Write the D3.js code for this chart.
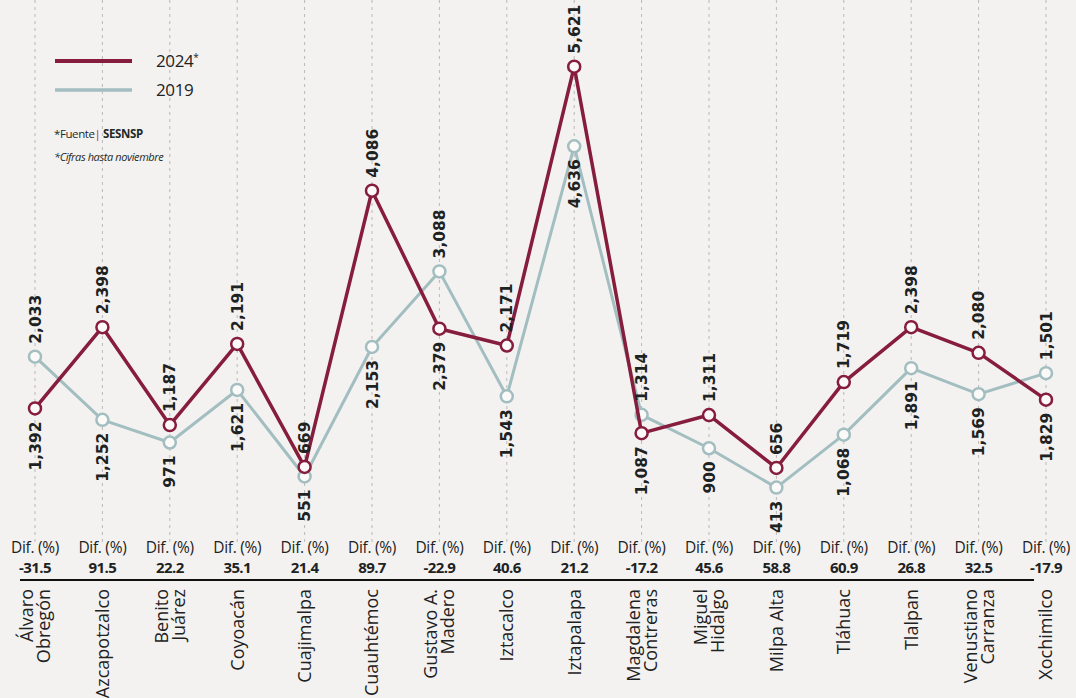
<!DOCTYPE html>
<html>
<head>
<meta charset="utf-8">
<script src="https://cdn.jsdelivr.net/npm/d3@7"></script>
<style>
  html, body { margin: 0; padding: 0; background: #f4f2f1; }
  #chart { width: 1076px; height: 698px; }
</style>
</head>
<body>
<div id="chart"></div>
<script>
var alcaldias = [
    ["Álvaro", "Obregón"], ["Azcapotzalco"], ["Benito", "Juárez"], ["Coyoacán"],
    ["Cuajimalpa"], ["Cuauhtémoc"], ["Gustavo A.", "Madero"], ["Iztacalco"],
    ["Iztapalapa"], ["Magdalena", "Contreras"], ["Miguel", "Hidalgo"], ["Milpa Alta"],
    ["Tláhuac"], ["Tlalpan"], ["Venustiano", "Carranza"], ["Xochimilco"]
];
var values2024 = [1392, 2398, 1187, 2191, 669, 4086, 2379, 2171, 5621, 1087, 1311, 656, 1719, 2398, 2080, 1501];
var values2019 = [2033, 1252, 971, 1621, 551, 2153, 3088, 1543, 4636, 1314, 900, 413, 1068, 1891, 1569, 1829];
var difPct = ["-31.5", "91.5", "22.2", "35.1", "21.4", "89.7", "-22.9", "40.6", "21.2", "-17.2", "45.6", "58.8", "60.9", "26.8", "32.5", "-17.9"];
// series whose number is printed on top (the paper flips Xochimilco)
var topLabel = ["2019", "2024", "2024", "2024", "2024", "2024", "2019", "2024", "2024", "2019", "2024", "2024", "2024", "2024", "2024", "2024"];

var colors = { "2024": "#861d3c", "2019": "#a3bec0" };

var LineChart = function(container, options) {
    this.chart = document.getElementById(container);
    this.cx = 1076;
    this.cy = 698;
    this.options = options;
    this.keys = alcaldias.map(function(d) { return d.join(" "); });

    this.svg = d3.select(this.chart).append("svg")
        .attr("width", this.cx)
        .attr("height", this.cy);

    this.setScales();
    this.draw();
}

LineChart.prototype.setScales = function() {
    this.x = d3.scalePoint()
        .domain(this.keys)
        .range([35, 1046]);

    this.y = d3.scaleLinear()
        .domain([0, 6000])
        .range([521, 36]);
}

LineChart.prototype.draw = function() {
    var self = this;
    var svg = this.svg;

    // dashed guides
    svg.append("g").selectAll("line").data(this.keys).enter().append("line")
        .attr("x1", function(d) { return self.x(d); })
        .attr("x2", function(d) { return self.x(d); })
        .attr("y1", 0)
        .attr("y2", 545)
        .attr("stroke", "#b9b9b9")
        .attr("stroke-width", 1)
        .attr("stroke-dasharray", "3,4");

    this.legend();

    var series = [
        { key: "2019", values: values2019, width: 3 },
        { key: "2024", values: values2024, width: 3.5 }
    ];

    series.forEach(function(s) {
        var pts = s.values.map(function(v, i) { return { k: self.keys[i], v: v }; });
        var line = d3.line()
            .x(function(d) { return self.x(d.k); })
            .y(function(d) { return self.y(d.v); });

        svg.append("path")
            .datum(pts)
            .attr("fill", "none")
            .attr("stroke", colors[s.key])
            .attr("stroke-width", s.width)
            .attr("stroke-linejoin", "round")
            .attr("d", line);

        svg.append("g").selectAll("circle").data(pts).enter().append("circle")
            .attr("cx", function(d) { return self.x(d.k); })
            .attr("cy", function(d) { return self.y(d.v); })
            .attr("r", 6)
            .attr("fill", "#fbfaf9")
            .attr("stroke", colors[s.key])
            .attr("stroke-width", 2.5);
    });

    // value labels: one above the higher marker, one below the lower marker
    var labels = [];
    this.keys.forEach(function(k, i) {
        var a = values2024[i], b = values2019[i];
        var hi = Math.max(a, b), lo = Math.min(a, b);
        var topVal = topLabel[i] === "2024" ? a : b;
        var botVal = topLabel[i] === "2024" ? b : a;
        labels.push({ k: k, y: self.y(hi) - 13, up: true, text: topVal });
        labels.push({ k: k, y: self.y(lo) + 13, up: false, text: botVal });
    });

    svg.append("g").selectAll("text").data(labels).enter().append("text")
        .attr("transform", function(d) { return "translate(" + self.x(d.k) + "," + d.y + ") rotate(-90)"; })
        .attr("text-anchor", function(d) { return d.up ? "start" : "end"; })
        .attr("dy", "0.36em")
        .style("font-family", "'DejaVu Sans', sans-serif")
        .style("font-weight", "bold")
        .style("font-size", "15.5px")
        .style("fill", "#1d2222")
        .text(function(d) { return d3.format(",")(d.text); });

    // Dif. (%) row
    var dif = svg.append("g").selectAll("g").data(this.keys).enter().append("g")
        .attr("transform", function(d) { return "translate(" + self.x(d) + ",0)"; });
    dif.append("text")
        .attr("y", 553)
        .attr("text-anchor", "middle")
        .style("font-family", "'Open Sans', sans-serif")
        .style("font-size", "15.5px")
        .style("letter-spacing", "-0.3px")
        .style("fill", "#1d2222")
        .text("Dif. (%)");
    dif.append("text")
        .attr("y", 573)
        .attr("text-anchor", "middle")
        .style("font-family", "'Open Sans', sans-serif")
        .style("font-weight", "bold")
        .style("font-size", "15px")
        .style("letter-spacing", "-0.6px")
        .style("fill", "#1d2222")
        .text(function(d, i) { return difPct[i]; });

    svg.append("line")
        .attr("x1", 20).attr("x2", 1034)
        .attr("y1", 580).attr("y2", 580)
        .attr("stroke", "#111")
        .attr("stroke-width", 2.2);

    // category names
    var cat = svg.append("g").selectAll("text").data(alcaldias).enter().append("text")
        .attr("transform", function(d, i) { return "translate(" + self.x(self.keys[i]) + ",589) rotate(-90)"; })
        .attr("text-anchor", "end")
        .style("font-family", "'Open Sans', sans-serif")
        .style("font-size", "18px")
        .style("fill", "#1d2222");
    cat.each(function(lines) {
        var t = d3.select(this);
        var lh = 17;
        lines.forEach(function(l, j) {
            t.append("tspan")
                .attr("x", 0)
                .attr("y", (j - (lines.length - 1) / 2) * lh)
                .attr("dy", "0.36em")
                .text(l);
        });
    });
}

LineChart.prototype.legend = function() {
    var g = this.svg.append("g");
    var items = [{ key: "2024", label: "2024", star: true, y: 61 }, { key: "2019", label: "2019", star: false, y: 90 }];

    items.forEach(function(it) {
        g.append("line")
            .attr("x1", 55).attr("x2", 132)
            .attr("y1", it.y).attr("y2", it.y)
            .attr("stroke", colors[it.key])
            .attr("stroke-width", it.key === "2024" ? 4 : 3.5);
        var t = g.append("text")
            .attr("x", 156)
            .attr("y", it.y + 6)
            .style("font-family", "'Open Sans', sans-serif")
            .style("font-size", "17px")
            .style("letter-spacing", "-0.4px")
            .style("fill", "#1d2222")
            .text(it.label);
        if (it.star) {
            t.append("tspan").attr("dy", -6).style("font-size", "10px").text("*");
        }
    });

    var src = g.append("text")
        .attr("x", 54)
        .attr("y", 138)
        .style("font-family", "'Open Sans', sans-serif")
        .style("font-size", "11.5px")
        .style("fill", "#1d2a26")
        .style("letter-spacing", "-0.4px");
    src.append("tspan").text("*Fuente");
    src.append("tspan").style("fill", "#b0233f").text("|");
    src.append("tspan").style("font-weight", "bold").text(" SESNSP");

    g.append("text")
        .attr("x", 54)
        .attr("y", 161)
        .style("font-family", "'Open Sans', sans-serif")
        .style("font-style", "italic")
        .style("font-size", "11px")
        .style("fill", "#1d2a26")
        .style("letter-spacing", "-0.4px")
        .text("*Cifras hasta noviembre");
}

var chart = new LineChart("chart", {});
</script>
</body>
</html>
